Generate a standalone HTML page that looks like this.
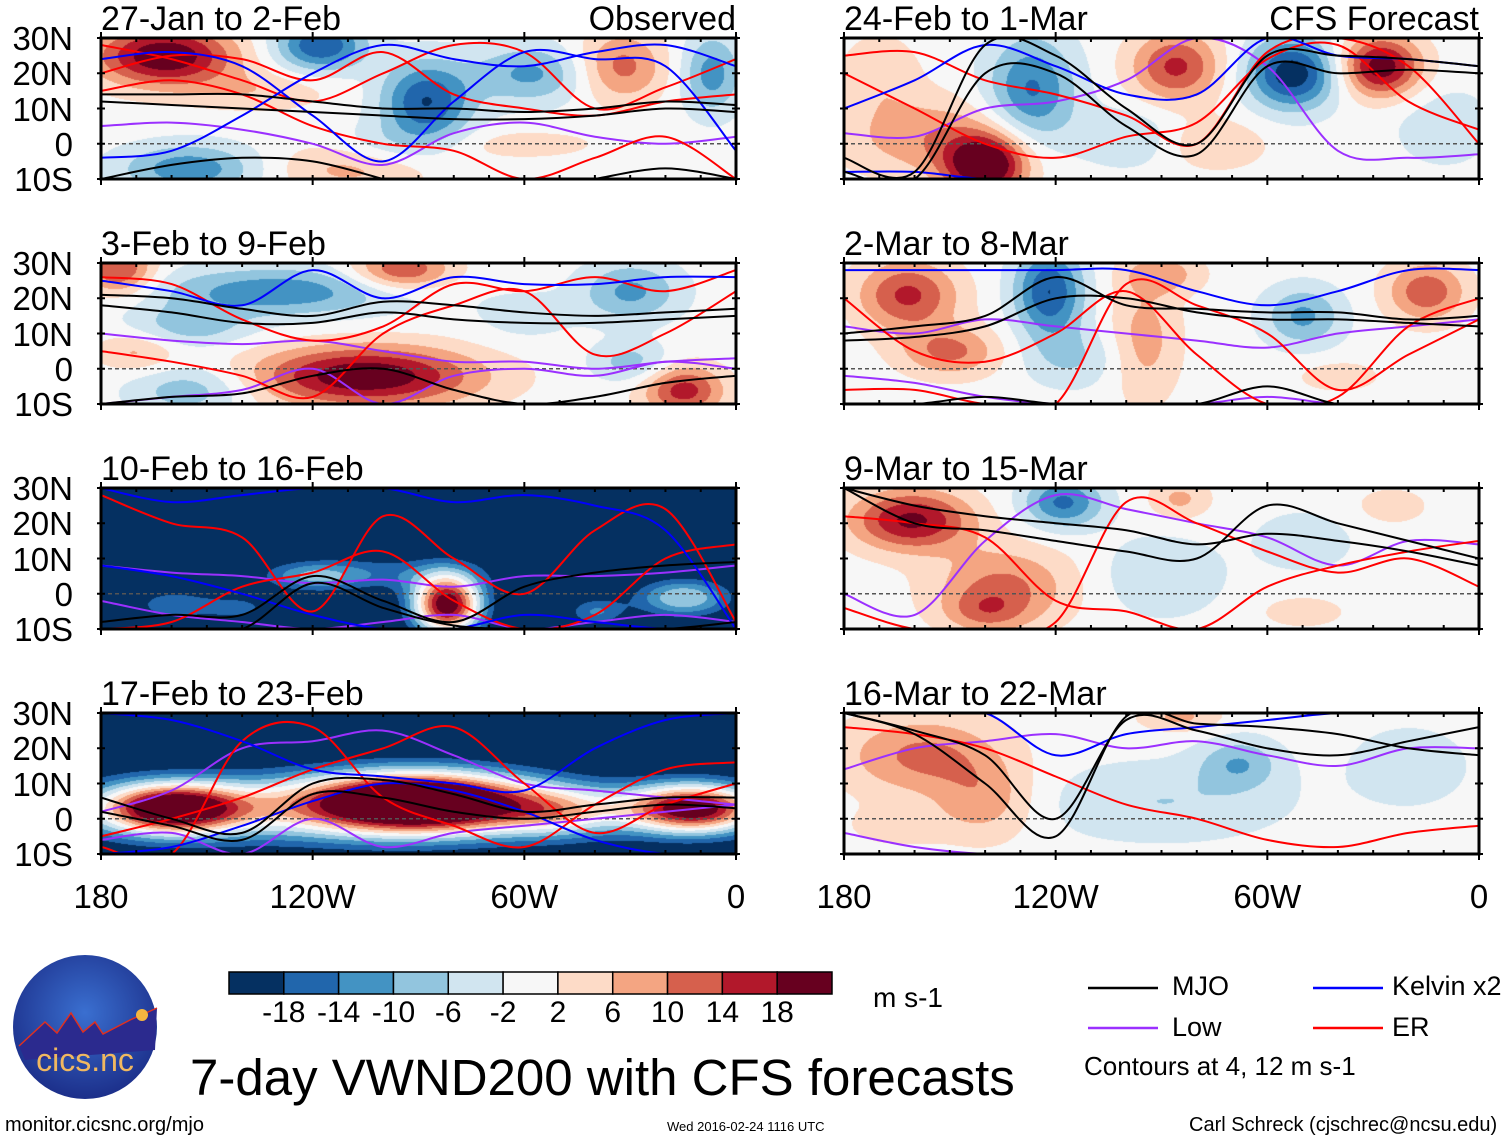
<!DOCTYPE html>
<html><head><meta charset="utf-8"><style>
body{margin:0;width:1510px;height:1142px;background:#fff;overflow:hidden;position:relative;font-family:"Liberation Sans",sans-serif;}
.t{position:absolute;color:#000;white-space:nowrap;line-height:1;}
canvas{position:absolute;}
</style></head><body>
<svg id="frame" width="1510" height="1142" style="position:absolute;left:0;top:0;z-index:2"></svg>
<div id="texts"></div>

<svg width="1510" height="1142" style="position:absolute;left:0;top:0;z-index:1" id="cbar"></svg>

<svg width="160" height="160" style="position:absolute;left:5px;top:950px" viewBox="0 0 160 160">
<defs><radialGradient id="lg" cx="50%" cy="40%" r="60%"><stop offset="0" stop-color="#3a6fd0"/><stop offset="1" stop-color="#1c2f8a"/></radialGradient></defs>
<circle cx="80" cy="77" r="72" fill="url(#lg)"/>
<path d="M14,96 L40,72 L52,83 L66,63 L78,82 L90,72 L98,84 L125,70 L152,58 L150,100 L20,110Z" fill="#2b2a8e"/>
<path d="M14,96 L40,72 L52,83 L66,63 L78,82 L90,72 L98,84 L125,70 L152,58" fill="none" stroke="#e03020" stroke-width="1.5"/>
<circle cx="137" cy="65" r="6" fill="#f5b640"/>
<text x="80" y="121" text-anchor="middle" font-family="Liberation Sans" font-size="32" fill="#f0b860">cics.nc</text>
</svg>

<div class="t" style="left:190px;top:1052px;font-size:51px;">7-day VWND200 with CFS forecasts</div>
<div class="t" style="left:5px;top:1115px;font-size:20px;">monitor.cicsnc.org/mjo</div>
<div class="t" style="left:667px;top:1120px;font-size:13px;">Wed 2016-02-24 1116 UTC</div>
<div class="t" style="left:1189px;top:1115px;font-size:20px;">Carl Schreck (cjschrec@ncsu.edu)</div>
<div class="t" style="left:873px;top:984px;font-size:28px;">m s-1</div>
<div class="t" style="left:1172px;top:973px;font-size:27px;">MJO</div>
<div class="t" style="left:1392px;top:973px;font-size:27px;">Kelvin x2</div>
<div class="t" style="left:1172px;top:1014px;font-size:27px;">Low</div>
<div class="t" style="left:1392px;top:1014px;font-size:27px;">ER</div>
<div class="t" style="left:1084px;top:1053px;font-size:26px;">Contours at 4, 12 m s-1</div>

<script>
// ---- data ----
const levels = [-18,-14,-10,-6,-2,2,6,10,14,18];
const colors = ["#053061","#2166ac","#4393c3","#92c5de","#d1e5f0","#f7f7f7","#fddbc7","#f4a582","#d6604d","#b2182b","#67001f"];
const xTickLabels = ["180","120W","60W","0"];
const yTickLabels = ["30N","20N","10N","0","10S"];
const panelTitles = ["27-Jan to 2-Feb","3-Feb to 9-Feb","10-Feb to 16-Feb","17-Feb to 23-Feb","24-Feb to 1-Mar","2-Mar to 8-Mar","9-Mar to 15-Mar","16-Mar to 22-Mar"];
const panelBase = [0,0,-26,-26,0,0,0,0];
// blobs: [lonW, lat, amplitude, sigmaLon, sigmaLat]
const blobs1 = [[162,25,22,14,6],[118,28,-18,9,5],[88,12,-18,9,8],[58,20,-11,12,6],[33,22,12,9,7],[7,20,-12,6,8],[155,-7,-13,14,5],[110,-7,7,16,5],[135,15,5,14,4],[60,0,4,15,3],[100,0,-4,10,4]];
const blobs2 = [[175,28,15,7,5],[130,22,-13,25,5],[95,28,15,10,4],[30,22,-11,10,6],[105,-2,22,22,6],[15,-6,16,8,5],[155,-6,-9,12,5],[30,2,-8,8,4],[155,12,-8,12,4],[60,15,-4,10,5],[170,5,7,8,4]];
const blobs3 = [[82,-3,48,7,6],[120,5,12,10,3],[100,6,9,22,4],[15,-1,20,10,4],[160,-3,10,10,4],[40,-5,12,6,3],[140,-4,8,8,3]];
const blobs4 = [[115,3,22,55,7],[90,5,50,22,6],[12,3,46,14,5],[160,3,42,14,5],[50,2,16,12,5]];
const blobs5 = [[140,-6,24,8,6],[155,2,9,18,8],[127,15,-15,9,11],[86,22,15,9,7],[53,20,-21,9,7],[28,22,21,8,6],[100,2,-6,10,6],[75,0,6,10,5],[170,20,5,8,8],[10,5,-5,10,8]];
const blobs6 = [[162,21,15,10,7],[122,22,-18,7,9],[150,5,11,10,5],[95,8,8,7,12],[90,27,8,8,4],[50,15,-11,8,6],[15,22,13,8,6],[115,3,-6,10,6],[40,-2,5,8,3]];
const blobs7 = [[161,21,19,12,6],[135,2,11,14,8],[118,26,-15,8,5],[85,27,7,6,4],[90,5,-6,12,8],[50,15,-5,10,6],[50,-5,5,8,3],[25,25,4,8,4],[140,-5,7,8,4]];
const blobs8 = [[158,18,11,16,8],[140,5,8,10,8],[90,5,-6,25,8],[68,16,-9,8,5],[85,29,7,8,3],[20,15,-5,12,8],[165,-2,4,10,4]];
const panelBlobs = [blobs1,blobs2,blobs3,blobs4,blobs5,blobs6,blobs7,blobs8];
// contour lines: latitudes sampled at lonW = 180,160,...,0
const lineLons = [180,160,140,120,100,80,60,40,20,0];
const mjoLines = [
 [[12,11,10,9,8,7,7,8,10,9],[14,14,14,12,10,10,9,10,12,11],[-10,-6,-4,-5,-10,null,null,-10,-7,-10]],
 [[18,16,13,13,16,14,13,13,14,15],[21,20,17,15,19,18,16,15,16,17],[-10,-8,-7,-2,0,-6,-10,-8,-4,-2]],
 [[-8,-6,-6,5,-2,-8,2,6,8,9],[-10,-10,-10,3,-4,-9,-10,-10,-10,-8]],
 [[6,0,-4,10,11,7,2,4,6,6],[2,-2,-6,7,6,2,0,2,4,3]],
 [[-4,-8,28,25,10,0,25,25,24,22],[-8,-10,20,20,5,-3,22,20,21,20]],
 [[10,12,15,26,18,17,16,16,14,15],[8,9,12,20,20,16,14,14,13,12],[-10,-10,-8,-10,-10,-10,-5,-10,-10,-10]],
 [[30,20,18,15,12,10,25,20,15,10],[30,25,22,20,18,14,17,15,12,8]],
 [[30,24,10,-5,29,27,26,24,20,18],[30,25,18,0,28,25,20,18,22,26]]
];
const kelvinLines = [
 [[24,26,22,8,-5,12,26,24,22,-2],[-4,-2,8,20,28,24,22,26,28,22]],
 [[25,22,18,28,20,26,24,24,26,26]],
 [[30,26,28,30,30,26,28,25,18,-10],[8,5,0,-6,-10,-10,-6,-8,-10,-10]],
 [[30,28,22,14,12,10,8,20,28,30],[-10,-8,-2,5,10,8,2,-6,-10,-10]],
 [[10,18,28,22,14,14,30,25,24,22],[-8,-8,-10,-10,-10,-10,-10,-10,-10,-10]],
 [[28,28,28,28,28,22,18,22,28,28]],
 [[30,30,30,30,30,30,30,30,30,30]],
 [[30,30,30,18,24,26,28,30,30,30]]
];
const lowLines = [
 [[5,6,4,0,-6,3,6,2,0,2]],
 [[10,8,7,8,5,2,2,0,2,3],[-10,-8,-6,0,-10,-2,0,-2,2,0]],
 [[8,6,5,3,4,2,5,5,6,8],[-2,-6,-8,-10,-8,-6,-10,-8,-6,-8]],
 [[2,8,20,22,25,18,10,8,6,4],[-6,-4,-10,0,-8,-4,-2,0,2,4]],
 [[3,2,10,12,18,30,22,-2,-4,-3]],
 [[12,10,14,12,10,8,6,10,12,14],[-2,-4,-8,-10,-10,-10,-8,-10,-10,-10]],
 [[0,-6,15,28,24,20,16,8,15,14]],
 [[14,20,22,24,20,22,18,15,20,20],[-4,-8,-10,-10,-10,-10,-10,-10,-10,-10]]
];
const erLines = [
 [[20,25,24,18,26,14,10,8,12,14],[15,18,14,5,0,-2,-10,-4,2,-10],[28,24,18,12,20,28,26,10,16,24]],
 [[26,24,14,8,12,24,22,26,22,28],[5,2,-2,-8,10,18,22,4,10,22]],
 [[28,20,16,-5,22,10,0,18,24,-8],[-10,-8,2,6,12,-2,-10,-6,10,14]],
 [[-5,0,6,14,20,26,10,-4,4,10],[-8,-10,22,26,6,-2,-8,4,14,16]],
 [[20,10,0,-4,2,6,24,28,12,4],[25,26,18,14,8,0,26,30,22,0]],
 [[20,5,2,10,22,4,-10,-8,12,20],[-6,-6,-10,-10,24,18,10,-6,4,14]],
 [[22,20,16,-2,-5,-10,2,8,12,15],[-4,-10,-10,-8,26,20,12,6,10,2]],
 [[26,24,20,12,4,0,-6,-8,-4,-2]]
];

// ---- layout ----
const cols=[101,844], rows=[38,263,488,713], PW=635, PH=141;
const svg=document.getElementById('frame'), NS='http://www.w3.org/2000/svg';
function mk(tag,attrs,parent){const e=document.createElementNS(NS,tag);for(const k in attrs)e.setAttribute(k,attrs[k]);(parent||svg).appendChild(e);return e;}
function hex(c){return [parseInt(c.slice(1,3),16),parseInt(c.slice(3,5),16),parseInt(c.slice(5,7),16)];}
const rgb=colors.map(hex);
const txt=document.getElementById('texts');
function addText(s,x,y,size,anchor,name){const d=document.createElement('div');d.className='t';d.textContent=s;d.style.fontSize=size+'px';d.style.top=y+'px';
 if(anchor==='right'){d.style.right=(1510-x)+'px';}else if(anchor==='center'){d.style.left=x+'px';d.style.transform='translateX(-50%)';}else d.style.left=x+'px';
 
 
 txt.appendChild(d);}
function smoothPath(pts){if(pts.length<2)return '';let d='M'+pts[0][0].toFixed(1)+','+pts[0][1].toFixed(1);
 for(let i=0;i<pts.length-1;i++){const p0=pts[i-1]||pts[i],p1=pts[i],p2=pts[i+1],p3=pts[i+2]||p2;
  const c1=[p1[0]+(p2[0]-p0[0])/6,p1[1]+(p2[1]-p0[1])/6],c2=[p2[0]-(p3[0]-p1[0])/6,p2[1]-(p3[1]-p1[1])/6];
  d+='C'+c1[0].toFixed(1)+','+c1[1].toFixed(1)+' '+c2[0].toFixed(1)+','+c2[1].toFixed(1)+' '+p2[0].toFixed(1)+','+p2[1].toFixed(1);}
 return d;}

for(let p=0;p<8;p++){
 const x0=cols[p<4?0:1], y0=rows[p%4];
 const sx=lon=>x0+(180-lon)/180*PW, sy=lat=>y0+(30-lat)/40*PH;
 const cv=document.createElement('canvas');cv.width=PW;cv.height=PH;cv.style.left=x0+'px';cv.style.top=y0+'px';
 
 
 document.body.appendChild(cv);
 const ctx=cv.getContext('2d'),img=ctx.createImageData(PW,PH);
 const bl=panelBlobs[p];
 for(let j=0;j<PH;j++){const lat=30-j/PH*40;
  for(let i=0;i<PW;i++){const lon=180-i/PW*180;let v=panelBase[p];
   for(const b of bl){const dx=(lon-b[0])/b[3],dy=(lat-b[1])/b[4];v+=b[2]*Math.exp(-0.5*(dx*dx+dy*dy));}
   let k=0;while(k<levels.length&&v>=levels[k])k++;const c=rgb[k],o=(j*PW+i)*4;img.data[o]=c[0];img.data[o+1]=c[1];img.data[o+2]=c[2];img.data[o+3]=255;}}
 ctx.putImageData(img,0,0);
 const g=mk('g',{'clip-path':'url(#cp'+p+')'});
 
 
 const cp=mk('clipPath',{id:'cp'+p});mk('rect',{x:x0,y:y0,width:PW,height:PH},cp);
 mk('line',{x1:x0,x2:x0+PW,y1:sy(0),y2:sy(0),stroke:'#555','stroke-width':1.5,'stroke-dasharray':'4,3'},g);
 function drawLines(set,col,nm){(set[p]||[]).forEach(ln=>{let segs=[[]];
  ln.forEach((la,k)=>{if(la===null){segs.push([]);return;}segs[segs.length-1].push([sx(lineLons[k]),sy(la)]);});
  const d=segs.map(smoothPath).join('');
  const e=mk('path',{d:d,fill:'none',stroke:col,'stroke-width':2,'stroke-linejoin':'round'},g);
  
  });}
 drawLines(lowLines,'#9b30ff','low');drawLines(erLines,'#ff0000','er');drawLines(kelvinLines,'#0000ff','kelvin');drawLines(mjoLines,'#000','mjo');
 const fr=mk('rect',{x:x0,y:y0,width:PW,height:PH,fill:'none',stroke:'#000','stroke-width':3});
 
 
 for(let lon=180;lon>=0;lon-=10){const X=sx(lon),maj=lon%60===0;
  mk('line',{x1:X,x2:X,y1:y0-(maj?6:0),y2:y0+4,stroke:'#000','stroke-width':2});
  mk('line',{x1:X,x2:X,y1:y0+PH-4,y2:y0+PH+(maj?6:0),stroke:'#000','stroke-width':2});}
 for(let lat=30;lat>=-10;lat-=10){const Y=sy(lat);
  mk('line',{x1:x0-4,x2:x0+4,y1:Y,y2:Y,stroke:'#000','stroke-width':2});
  mk('line',{x1:x0+PW-4,x2:x0+PW+4,y1:Y,y2:Y,stroke:'#000','stroke-width':2});}
 addText(panelTitles[p],x0,y0-36,34,'left','panel-title-'+(p+1));
 if(p===0)addText('Observed',x0+PW,y0-36,34,'right','observed-label');
 if(p===4)addText('CFS Forecast',x0+PW,y0-36,34,'right','forecast-label');
 if(p<4)yTickLabels.forEach((s,k)=>addText(s,73,sy(30-10*k)-16,33,'right','y-tick-label'));
 if(p%4===3)xTickLabels.forEach((s,k)=>addText(s,sx(180-60*k),y0+PH+26,33,'center','x-tick-label'));
}
const cb=document.getElementById('cbar');
const bx=229,bw=603/11;
colors.forEach((c,k)=>{const r=mk('rect',{x:bx+k*bw,y:972,width:bw,height:22,fill:c,stroke:'#000','stroke-width':1.5},cb);
 
 });
levels.forEach((l,k)=>addText(String(l),bx+(k+1)*bw,998,30,'center','colorbar-label'));
[['#000',1088,988],['#0000ff',1313,988],['#9b30ff',1088,1028],['#ff0000',1313,1028]].forEach(a=>{const e=mk('line',{x1:a[1],x2:a[1]+70,y1:a[2],y2:a[2],stroke:a[0],'stroke-width':2.5});
 
 });
</script>
</body></html>
